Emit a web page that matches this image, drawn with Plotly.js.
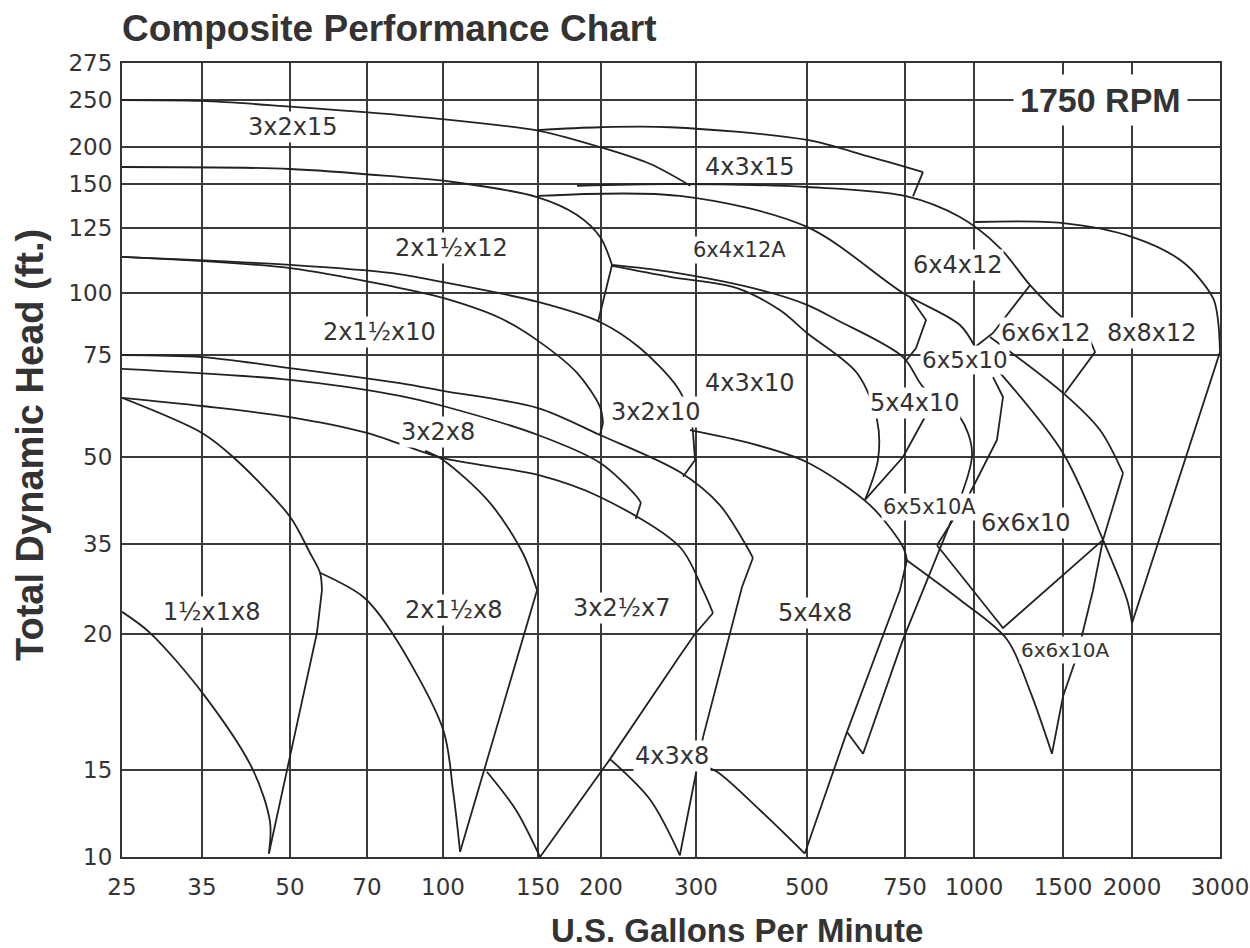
<!DOCTYPE html>
<html><head><meta charset="utf-8">
<script src="https://cdn.plot.ly/plotly-3.0.1.min.js"></script>
<style>html,body{margin:0;padding:0;background:#fff}#chart{width:1250px;height:948px}</style>
</head><body><div id="chart"></div>
<script>
// ---- axis ticks (as printed) ----
const gpmTicks  = [25,35,50,70,100,150,200,300,500,750,1000,1500,2000,3000];
const headTicks = [10,15,20,35,50,75,100,125,150,200,250,275];
// printed chart uses its own non-uniform grid spacing
const gpmScale  = [0,80,168,245,321,416,479,574,685,783,852,941,1010,1098];
const headScale = [0,87,223,313,400,502,564,629,673,710,757,794];

// ---- pump curves: U.S. GPM and total dynamic head (ft) ----
const p3x2x15_gpm   = [25,35,50,83,130,152,199,252,294];
const p3x2x15_head  = [250,249,243,234,223,217,200,177,149];

const p4x3x15_gpm   = [149.5,199,273,500,661,815];
const p4x3x15_head  = [218,221,221,207.5,186.5,166];
const p4x3x15e_gpm  = [815,779];
const p4x3x15e_head = [166,143];

const p6x4x12_gpm   = [181,273,500,750,949,1146,1315,1500,1674];
const p6x4x12_head  = [149,150,148.3,143.2,131.2,117.3,103,89.9,83.9];
const p6x4x12e_gpm  = [1674,1732,1514];
const p6x4x12e_head = [83.9,76.2,65.7];

const p8x8x12_gpm   = [1006,1500,2000,2579,2920,2977,3000];
const p8x8x12_head  = [128.4,127.8,121.6,111.9,98,89.1,76.2];
const p8x8x12e_gpm  = [3000,2000];
const p8x8x12e_head = [76.2,21.8];
const p8x8x12m_gpm  = [1146,1500,1790,1964,2000];
const p8x8x12m_head = [70.6,51,35.7,25.7,21.8];

const p6x6x12l_gpm  = [1006,1107,1315];
const p6x6x12l_head = [78.2,83.9,103];
const p6x6x12m_gpm  = [1090,1500,1768,1935];
const p6x6x12m_head = [82.3,65.7,56.6,47.2];
const p6x6x12e_gpm  = [1935,1790];
const p6x6x12e_head = [47.2,35.7];

const p6x4x12A_gpm   = [149.5,283,500,745,949,1006];
const p6x4x12A_head  = [143.2,143.2,125.6,100,87.1,78.2];
const p6x4x12Ae_gpm  = [768,826,790,750];
const p6x4x12Ae_head = [98.4,89.1,77.8,73.3];

const p2x15x12_gpm   = [25,50,83,105.3,149.5,181,199.2,211.6];
const p2x15x12_head  = [173,170.3,159.5,152.7,142.6,132.4,121.6,110.8];
const p2x15x12e_gpm  = [211.6,202,197.6];
const p2x15x12e_head = [110.8,96.4,88.3];

const p3x2x10_gpm   = [25,50,79.1,100,150,199.2,241,280,293.7,296.8];
const p3x2x10_head  = [113.9,110.8,107.7,104.2,96.4,88.3,77.8,67.2,60.3,56.1];
const p3x2x10e_gpm  = [296.8,299,286.3];
const p3x2x10e_head = [56.1,49.5,46.6];

const p2x15x10_gpm   = [25,50,79.1,100,130,149.5,181,199.2,202.1];
const p2x15x10_head  = [113.9,109.6,102.7,98,89.9,81,70.6,62.3,58.3];
const p2x15x10e_gpm  = [202.1,199.2];
const p2x15x10e_head = [58.3,55.4];

const p4x3x8_gpm   = [25,35,50,83,100,150,199.2,283,343,392,402.6];
const p4x3x8_head  = [75,74.5,71.8,68.1,66.2,62,55.4,47.4,41.7,34.5,32.7];
const p4x3x8e_gpm  = [402.6,382.8,312.6,299,283];
const p4x3x8e_head = [32.7,27.8,16.2,14.6,10.1];
const p4x3x8m_gpm  = [209.5,251.6,283];
const p4x3x8m_head = [15.4,13.3,10.1];

const p3x2x8_gpm   = [25,50,83,100,150,199.2,238,242];
const p3x2x8_head  = [71.6,68.9,65,62.5,55.4,49,43.1,42.1];
const p3x2x8e_gpm  = [242,236.5];
const p3x2x8e_head = [42.1,39.3];

const p3x25x7_gpm   = [25,35,50,70,83,100,150,199.2,283,312.6,330.6];
const p3x25x7_head  = [64.5,62.5,59.8,55.9,53.2,49.8,46.9,43.1,34.5,27.3,23.5];
const p3x25x7e_gpm  = [330.6,298.9,283,209.5,151.6];
const p3x25x7e_head = [23.5,20,19.2,15.4,10];
const p3x25x7m_gpm  = [123.1,138.4,151.6];
const p3x25x7m_head = [14.9,12.7,10];

const p2x15x8_gpm   = [92.9,100,124.7,142,149.5];
const p2x15x8_head  = [51.5,49.5,42.1,33.5,27.3];
const p2x15x8e_gpm  = [149.5,109];
const p2x15x8e_head = [27.3,10.3];
const p2x15x8m_gpm  = [57.8,69,79.1,100,105.3,109];
const p2x15x8m_head = [30.2,26.2,20.7,16.5,13.8,10.3];

const p15x1x8_gpm   = [25,35,40.3,50,55.2,57.8,58.3];
const p15x1x8_head  = [64.5,55.9,50,39.7,33.5,30.2,27.3];
const p15x1x8e_gpm  = [58.3,57,50,46.4];
const p15x1x8e_head = [27.3,20.2,15.5,10.2];
const p15x1x8m_gpm  = [25,28.5,35.2,43.7,46.6,46.4];
const p15x1x8m_head = [23.7,20.2,17.8,15,12,10.2];

const p5x4x8_gpm   = [293.7,397,500,660.7,745,757];
const p5x4x8_head  = [56.6,53.4,49.1,41.7,34.5,32.3];
const p5x4x8e_gpm  = [757,737,602,496];
const p5x4x8e_head = [32.3,27.3,16.4,10.2];
const p5x4x8m_gpm  = [307,337.8,415,496];
const p5x4x8m_head = [15.2,14.9,12.7,10.2];

const p4x3x10_gpm   = [211.6,272.7,373.8,451,500,627.5,678.6,681,648];
const p4x3x10_head  = [110.4,106.2,101.9,93.1,83.9,70.6,59.1,49.5,42.6];
const p4x3x10e_gpm  = [648,745,822.4];
const p4x3x10e_head = [42.6,50,59.8];

const p5x4x10_gpm   = [211.6,272.7,415,500,576.5,745,815,949,993,938];
const p5x4x10_head  = [110.8,108.1,101.2,95.2,89.1,74.5,67.2,59.8,51,41.4];
const p6x5x10A_gpm  = [938,858.6,815,745,643,602];
const p6x5x10A_head = [41.4,32.3,27.3,19.8,15.6,16.4];

const p6x5x10_gpm   = [1107,1163,1129,985.5,866];
const p6x5x10_head  = [69.6,64.7,54.2,43.8,34.8];

const p6x6x10_gpm   = [866,1163,1790];
const p6x6x10_head  = [34.8,21,35.7];
const p6x6x10A_gpm  = [750,949,1185.5,1315,1438];
const p6x6x10A_head = [32.5,25.7,19.8,17.9,15.6];
const p6x6x10Ae_gpm = [1438,1500,1601.5,1717.5,1790];
const p6x6x10Ae_head= [15.6,17.7,19.2,27.3,35.7];

// ---- pump model labels ----
const labelText = ['3x2x15','4x3x15','2x1½x12','6x4x12A','6x4x12','2x1½x10','6x6x12','8x8x12','6x5x10','4x3x10','5x4x10','3x2x10','3x2x8','6x5x10A','6x6x10','1½x1x8','2x1½x8','3x2½x7','5x4x8','6x6x10A','4x3x8'];
const labelGpm  = [50.6,397,104.7,379,942,75.1,1399,2227,967,397,786,257,98,840.5,1287,36.7,105.3,222,520,1514.5,274.7];
const labelHead = [221,173,117.3,116.6,110.8,84.3,83.9,83.9,73.8,68.1,63.2,61,56.1,41.4,38.6,23.7,24,24.3,23.5,19.4,15.5];
const labelSize = [24,24,24,21,24,24,24,24,23,24,24,24,24,21,24,24,24,24,24,20,24];

// ---- scale helpers (piecewise, following the printed grid) ----
function scale(v, vals, pos){
  const n = vals.length;
  let i = 0;
  if (v >= vals[n-1]) i = n-2;
  else { while (i < n-2 && v > vals[i+1]) i++; }
  return pos[i] + (v - vals[i]) * (pos[i+1]-pos[i]) / (vals[i+1]-vals[i]);
}
const X = v => scale(v, gpmTicks, gpmScale);
const Y = v => scale(v, headTicks, headScale);

const curves = [
  [p3x2x15_gpm,p3x2x15_head,'spline'],
  [p4x3x15_gpm,p4x3x15_head,'spline'],[p4x3x15e_gpm,p4x3x15e_head,'linear'],
  [p6x4x12_gpm,p6x4x12_head,'spline'],[p6x4x12e_gpm,p6x4x12e_head,'linear'],
  [p8x8x12_gpm,p8x8x12_head,'spline'],[p8x8x12e_gpm,p8x8x12e_head,'linear'],[p8x8x12m_gpm,p8x8x12m_head,'spline'],
  [p6x6x12l_gpm,p6x6x12l_head,'linear'],[p6x6x12m_gpm,p6x6x12m_head,'spline'],[p6x6x12e_gpm,p6x6x12e_head,'linear'],
  [p6x4x12A_gpm,p6x4x12A_head,'spline'],[p6x4x12Ae_gpm,p6x4x12Ae_head,'linear'],
  [p2x15x12_gpm,p2x15x12_head,'spline'],[p2x15x12e_gpm,p2x15x12e_head,'linear'],
  [p3x2x10_gpm,p3x2x10_head,'spline'],[p3x2x10e_gpm,p3x2x10e_head,'linear'],
  [p2x15x10_gpm,p2x15x10_head,'spline'],[p2x15x10e_gpm,p2x15x10e_head,'linear'],
  [p4x3x8_gpm,p4x3x8_head,'spline'],[p4x3x8e_gpm,p4x3x8e_head,'linear'],[p4x3x8m_gpm,p4x3x8m_head,'spline'],
  [p3x2x8_gpm,p3x2x8_head,'spline'],[p3x2x8e_gpm,p3x2x8e_head,'linear'],
  [p3x25x7_gpm,p3x25x7_head,'spline'],[p3x25x7e_gpm,p3x25x7e_head,'linear'],[p3x25x7m_gpm,p3x25x7m_head,'spline'],
  [p2x15x8_gpm,p2x15x8_head,'spline'],[p2x15x8e_gpm,p2x15x8e_head,'linear'],[p2x15x8m_gpm,p2x15x8m_head,'spline'],
  [p15x1x8_gpm,p15x1x8_head,'spline'],[p15x1x8e_gpm,p15x1x8e_head,'linear'],[p15x1x8m_gpm,p15x1x8m_head,'spline'],
  [p5x4x8_gpm,p5x4x8_head,'spline'],[p5x4x8e_gpm,p5x4x8e_head,'linear'],[p5x4x8m_gpm,p5x4x8m_head,'spline'],
  [p4x3x10_gpm,p4x3x10_head,'spline'],[p4x3x10e_gpm,p4x3x10e_head,'linear'],
  [p5x4x10_gpm,p5x4x10_head,'spline'],[p6x5x10A_gpm,p6x5x10A_head,'linear'],
  [p6x5x10_gpm,p6x5x10_head,'linear'],
  [p6x6x10_gpm,p6x6x10_head,'linear'],[p6x6x10A_gpm,p6x6x10A_head,'spline'],[p6x6x10Ae_gpm,p6x6x10Ae_head,'linear']
];

const ink = '#222222';
const traces = curves.map(c => ({
  type:'scatter', mode:'lines',
  x: c[0].map(X), y: c[1].map(Y),
  line:{color:ink, width:1.8, shape:c[2], smoothing:0.9},
  hoverinfo:'skip', showlegend:false
}));

const BOLD = 'Liberation Sans, Arial, Helvetica, sans-serif';
const PLAIN = 'DejaVu Sans, Liberation Sans, Arial, sans-serif';
const annotations = labelText.map((t,i) => ({
  text:t, x:X(labelGpm[i]), y:Y(labelHead[i]), xref:'x', yref:'y',
  xanchor:'center', yanchor:'middle',
  showarrow:false, bgcolor:'#ffffff', borderpad:1,
  font:{family:PLAIN, size:labelSize[i], color:'#333'}
}));
annotations.push({
  text:'<b>1750 RPM</b>', x:X(1770), y:Y(250), xref:'x', yref:'y', showarrow:false,
  xanchor:'center', yanchor:'middle',
  bgcolor:'#ffffff', borderpad:6, font:{family:BOLD, size:34, color:'#333'}
});
annotations.push({
  text:'<b>U.S. Gallons Per Minute</b>', xref:'paper', yref:'paper', x:0.56, y:-0.092,
  xanchor:'center', yanchor:'middle',
  showarrow:false, font:{family:BOLD, size:33, color:'#333'}
});
annotations.push({
  text:'<b>Total Dynamic Head (ft.)</b>', xref:'paper', yref:'paper', x:-0.0838, y:0.519,
  xanchor:'center', yanchor:'middle',
  textangle:-90, showarrow:false, font:{family:BOLD, size:38, color:'#333'}
});

const layout = {
  width:1250, height:948,
  margin:{l:122, r:30, t:63, b:91},
  paper_bgcolor:'#fff', plot_bgcolor:'#fff',
  title:{text:'<b>Composite Performance Chart</b>', xref:'paper', x:0, xanchor:'left',
         yref:'container', y:0.97, yanchor:'middle',
         font:{family:BOLD, size:37, color:'#333'}},
  xaxis:{range:[0,1098], tickvals:gpmTicks.map(X), ticktext:gpmTicks.map(String),
         showgrid:true, gridcolor:'#3a3a3a', gridwidth:2, zeroline:false,
         showline:true, mirror:true, linecolor:'#333', linewidth:2, ticks:'',
         ticklabelstandoff:8, tickfont:{family:PLAIN, size:23, color:'#333'}, fixedrange:true},
  yaxis:{range:[0,794], tickvals:headTicks.map(Y), ticktext:headTicks.map(String),
         showgrid:true, gridcolor:'#3a3a3a', gridwidth:2, zeroline:false,
         showline:true, mirror:true, linecolor:'#333', linewidth:2, ticks:'',
         ticklabelstandoff:3, tickfont:{family:PLAIN, size:23, color:'#333'}, fixedrange:true},
  annotations
};
Plotly.newPlot('chart', traces, layout, {displayModeBar:false, staticPlot:true});
</script></body></html>
